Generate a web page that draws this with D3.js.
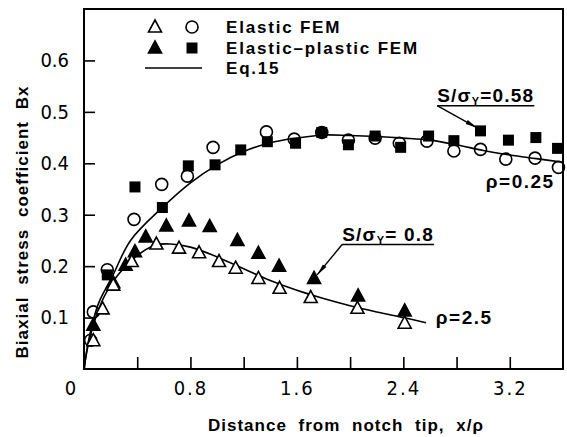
<!DOCTYPE html>
<html>
<head>
<meta charset="utf-8">
<script src="https://cdn.jsdelivr.net/npm/d3@7"></script>
<style>
  body { margin: 0; background: #fff; }
  .tick text { font-family: "Liberation Sans Narrow", "DejaVu Sans Condensed", sans-serif; font-size: 20px; fill: #000; }
  .lbl { font-family: "Liberation Sans", Arial, sans-serif; font-weight: bold; fill: #000; }
</style>
</head>
<body>
<div class="chart"></div>
<script>
// x/rho and Bx readings, one array per marker series
const elasticLowX  = [0.07, 0.14, 0.22, 0.359, 0.544, 0.714, 0.865, 1.015, 1.14, 1.311, 1.47, 1.704, 2.055, 2.41];
const elasticLowY  = [0.055, 0.117, 0.163, 0.209, 0.243, 0.235, 0.226, 0.209, 0.196, 0.176, 0.157, 0.139, 0.118, 0.089];
const elasticHighX = [0.05, 0.07, 0.175, 0.376, 0.584, 0.777, 0.97, 1.371, 1.58, 1.787, 1.987, 2.188, 2.37, 2.577, 2.78, 2.98, 3.17, 3.39, 3.566];
const elasticHighY = [0.056, 0.111, 0.193, 0.291, 0.359, 0.375, 0.431, 0.461, 0.447, 0.46, 0.445, 0.449, 0.439, 0.443, 0.424, 0.427, 0.408, 0.41, 0.392];
const plasticLowX  = [0.07, 0.22, 0.313, 0.383, 0.464, 0.619, 0.789, 0.945, 1.153, 1.311, 1.466, 1.729, 2.06, 2.41];
const plasticLowY  = [0.085, 0.168, 0.202, 0.228, 0.257, 0.278, 0.288, 0.277, 0.25, 0.225, 0.2, 0.176, 0.142, 0.113];
const plasticHighX = [0.175, 0.383, 0.589, 0.784, 0.985, 1.178, 1.378, 1.59, 1.787, 1.987, 2.188, 2.38, 2.59, 2.78, 2.98, 3.19, 3.396, 3.559];
const plasticHighY = [0.183, 0.354, 0.314, 0.395, 0.397, 0.426, 0.442, 0.439, 0.46, 0.436, 0.453, 0.431, 0.453, 0.444, 0.463, 0.445, 0.45, 0.429];

// Eq.15 curves
const eqHighX = [0, 0.03, 0.07, 0.113, 0.213, 0.35, 0.589, 0.8, 1.0, 1.2, 1.4, 1.6, 1.8, 2.0, 2.2, 2.4, 2.6, 2.8, 3.0, 3.2, 3.4, 3.6];
const eqHighY = [0, 0.05, 0.095, 0.13, 0.18, 0.25, 0.314, 0.362, 0.397, 0.423, 0.44, 0.449, 0.455, 0.454, 0.452, 0.449, 0.445, 0.436, 0.425, 0.416, 0.409, 0.402];
const eqLowX  = [0, 0.03, 0.088, 0.15, 0.226, 0.388, 0.539, 0.65, 0.8, 1.0, 1.2, 1.4, 1.6, 1.8, 2.0, 2.2, 2.4, 2.57];
const eqLowY  = [0, 0.045, 0.1, 0.14, 0.173, 0.218, 0.241, 0.243, 0.237, 0.218, 0.195, 0.172, 0.153, 0.137, 0.123, 0.111, 0.1, 0.09];

const xTicks = [0, 0.4, 0.8, 1.2, 1.6, 2.0, 2.4, 2.8, 3.2];
const xLabels = [0, 0.8, 1.6, 2.4, 3.2];
const yTicks = [0.1, 0.2, 0.3, 0.4, 0.5, 0.6];

const zip = (xs, ys) => xs.map((x, i) => ({x: x, y: ys[i]}));

const margin = {top: 9, right: 4, bottom: 68, left: 84};
const width = 567 - margin.left - margin.right;
const height = 437 - margin.top - margin.bottom;

const svg = d3.select(".chart").append("svg")
    .attr("width", 567)
    .attr("height", 437);

const defs = svg.append("defs");
defs.append("marker")
    .attr("id", "arrow")
    .attr("viewBox", "0 0 12 6")
    .attr("refX", 12).attr("refY", 3)
    .attr("markerWidth", 12).attr("markerHeight", 6)
    .attr("markerUnits", "userSpaceOnUse")
    .attr("orient", "auto")
    .append("path").attr("d", "M0,0.8L12,3L0,5.2Z").attr("fill", "#000");

const g = svg.append("g")
    .attr("transform", `translate(${margin.left},${margin.top})`);

const xScale = d3.scaleLinear().domain([0, 3.6]).range([0, width]);
const yScale = d3.scaleLinear().domain([0, 0.7]).range([height, 0]);

// axes with inward ticks
const xAxis = d3.axisBottom(xScale)
    .tickValues(xTicks)
    .tickSizeInner(-12).tickSizeOuter(0).tickPadding(12)
    .tickFormat(d => xLabels.includes(d) ? String(d === 0 ? 0 : d.toFixed(1)) : "");
const yAxis = d3.axisLeft(yScale)
    .tickValues(yTicks)
    .tickSizeInner(-11).tickSizeOuter(0).tickPadding(15)
    .tickFormat(d3.format(".1f"));

const gx = g.append("g").attr("transform", `translate(0,${height})`).call(xAxis);
const gy = g.append("g").call(yAxis);
gx.select(".domain").remove();
gy.select(".domain").remove();
g.selectAll(".tick line").attr("stroke", "#000").attr("stroke-width", 1.6);
gx.selectAll(".tick text").attr("letter-spacing", "2px")
    .filter(d => d === 0).attr("dx", -13);

// frame
g.append("rect")
    .attr("width", width).attr("height", height)
    .attr("fill", "none").attr("stroke", "#000").attr("stroke-width", 2);

// Eq.15 curves
const line = d3.line()
    .x(d => xScale(d.x)).y(d => yScale(d.y))
    .curve(d3.curveCatmullRom.alpha(0.5));
[zip(eqHighX, eqHighY), zip(eqLowX, eqLowY)].forEach(pts => {
  g.append("path").datum(pts)
      .attr("d", line)
      .attr("fill", "none").attr("stroke", "#000").attr("stroke-width", 1.6);
});

// marker shapes
const triPath = "M0,-7L6.5,5L-6.5,5Z";
function drawMarks(pts, kind, filled) {
  const sel = g.append("g").selectAll("path").data(pts).enter();
  if (kind === "tri") {
    sel.append("path")
        .attr("d", triPath)
        .attr("transform", d => `translate(${xScale(d.x)},${yScale(d.y)})`)
        .attr("fill", filled ? "#000" : "#fff")
        .attr("stroke", "#000").attr("stroke-width", 1.6);
  } else if (kind === "circle") {
    sel.append("circle")
        .attr("cx", d => xScale(d.x)).attr("cy", d => yScale(d.y))
        .attr("r", 6)
        .attr("fill", "none")
        .attr("stroke", "#000").attr("stroke-width", 1.6);
  } else {
    sel.append("rect")
        .attr("x", d => xScale(d.x) - 5.5).attr("y", d => yScale(d.y) - 5.5)
        .attr("width", 11).attr("height", 11)
        .attr("fill", "#000");
  }
}
drawMarks(zip(plasticHighX, plasticHighY), "square", true);
drawMarks(zip(elasticHighX, elasticHighY), "circle", false);
drawMarks(zip(plasticLowX, plasticLowY), "tri", true);
drawMarks(zip(elasticLowX, elasticLowY), "tri", false);

// legend
const legend = svg.append("g");
const legendRows = ["Elastic FEM", "Elastic\u2013plastic FEM", "Eq.15"];
const rowY = [27, 48, 68];
legend.append("path").attr("d", triPath).attr("transform", `translate(155,${rowY[0]})`)
    .attr("fill", "#fff").attr("stroke", "#000").attr("stroke-width", 1.6);
legend.append("circle").attr("cx", 192).attr("cy", rowY[0]).attr("r", 6)
    .attr("fill", "none").attr("stroke", "#000").attr("stroke-width", 1.6);
legend.append("path").attr("d", triPath).attr("transform", `translate(155,${rowY[1]})`)
    .attr("fill", "#000").attr("stroke", "#000").attr("stroke-width", 1.6);
legend.append("rect").attr("x", 186.5).attr("y", rowY[1] - 5.5).attr("width", 11).attr("height", 11)
    .attr("fill", "#000");
legend.append("line").attr("x1", 145).attr("x2", 202).attr("y1", rowY[2]).attr("y2", rowY[2])
    .attr("stroke", "#000").attr("stroke-width", 1.6);
legend.selectAll("text.leg").data(legendRows).enter().append("text")
    .attr("class", "lbl leg")
    .attr("x", 226).attr("y", (d, i) => rowY[i] + 6)
    .attr("font-size", 17).attr("letter-spacing", "1.8px")
    .text(d => d);

// annotations, positions in data units
const notes = [
  {tx: 2.654, ty: 0.519, uy: 0.512, ax: 2.955, ay: 0.469, val: "=0.58"},
  {tx: 1.94, ty: 0.249, uy: 0.242, ax: 1.752, ay: 0.183, val: "= 0.8"}
];
notes.forEach(n => {
  const t = g.append("text").attr("class", "lbl")
      .attr("x", xScale(n.tx)).attr("y", yScale(n.ty))
      .attr("font-size", 19).attr("letter-spacing", "1.2px");
  t.append("tspan").text("S/\u03c3");
  t.append("tspan").attr("font-size", 11).attr("dy", 3).text("Y");
  t.append("tspan").attr("dy", -3).text(n.val);
  const box = t.node().getBBox();
  g.append("line")
      .attr("x1", xScale(n.tx)).attr("x2", box.x + box.width)
      .attr("y1", yScale(n.uy)).attr("y2", yScale(n.uy))
      .attr("stroke", "#000").attr("stroke-width", 1.6);
  g.append("line")
      .attr("x1", xScale(n.tx)).attr("y1", yScale(n.uy))
      .attr("x2", xScale(n.ax)).attr("y2", yScale(n.ay))
      .attr("stroke", "#000").attr("stroke-width", 1.4)
      .attr("marker-end", "url(#arrow)");
});

const rhoLabels = [
  {x: 3.02, y: 0.352, text: "\u03c1=0.25"},
  {x: 2.644, y: 0.0875, text: "\u03c1=2.5"}
];
g.selectAll("text.rho").data(rhoLabels).enter().append("text")
    .attr("class", "lbl rho")
    .attr("x", d => xScale(d.x)).attr("y", d => yScale(d.y))
    .attr("font-size", 19).attr("letter-spacing", "1.5px")
    .text(d => d.text);

// axis titles
svg.append("text").attr("class", "lbl")
    .attr("x", 346).attr("y", 431)
    .attr("text-anchor", "middle")
    .attr("font-size", 17).attr("letter-spacing", "1px").attr("word-spacing", "6px")
    .text("Distance from notch tip, x/\u03c1");
svg.append("text").attr("class", "lbl")
    .attr("transform", "translate(28,222) rotate(-90)")
    .attr("text-anchor", "middle")
    .attr("font-size", 17).attr("letter-spacing", "1px").attr("word-spacing", "6px")
    .text("Biaxial stress coefficient Bx");
</script>
</body>
</html>
